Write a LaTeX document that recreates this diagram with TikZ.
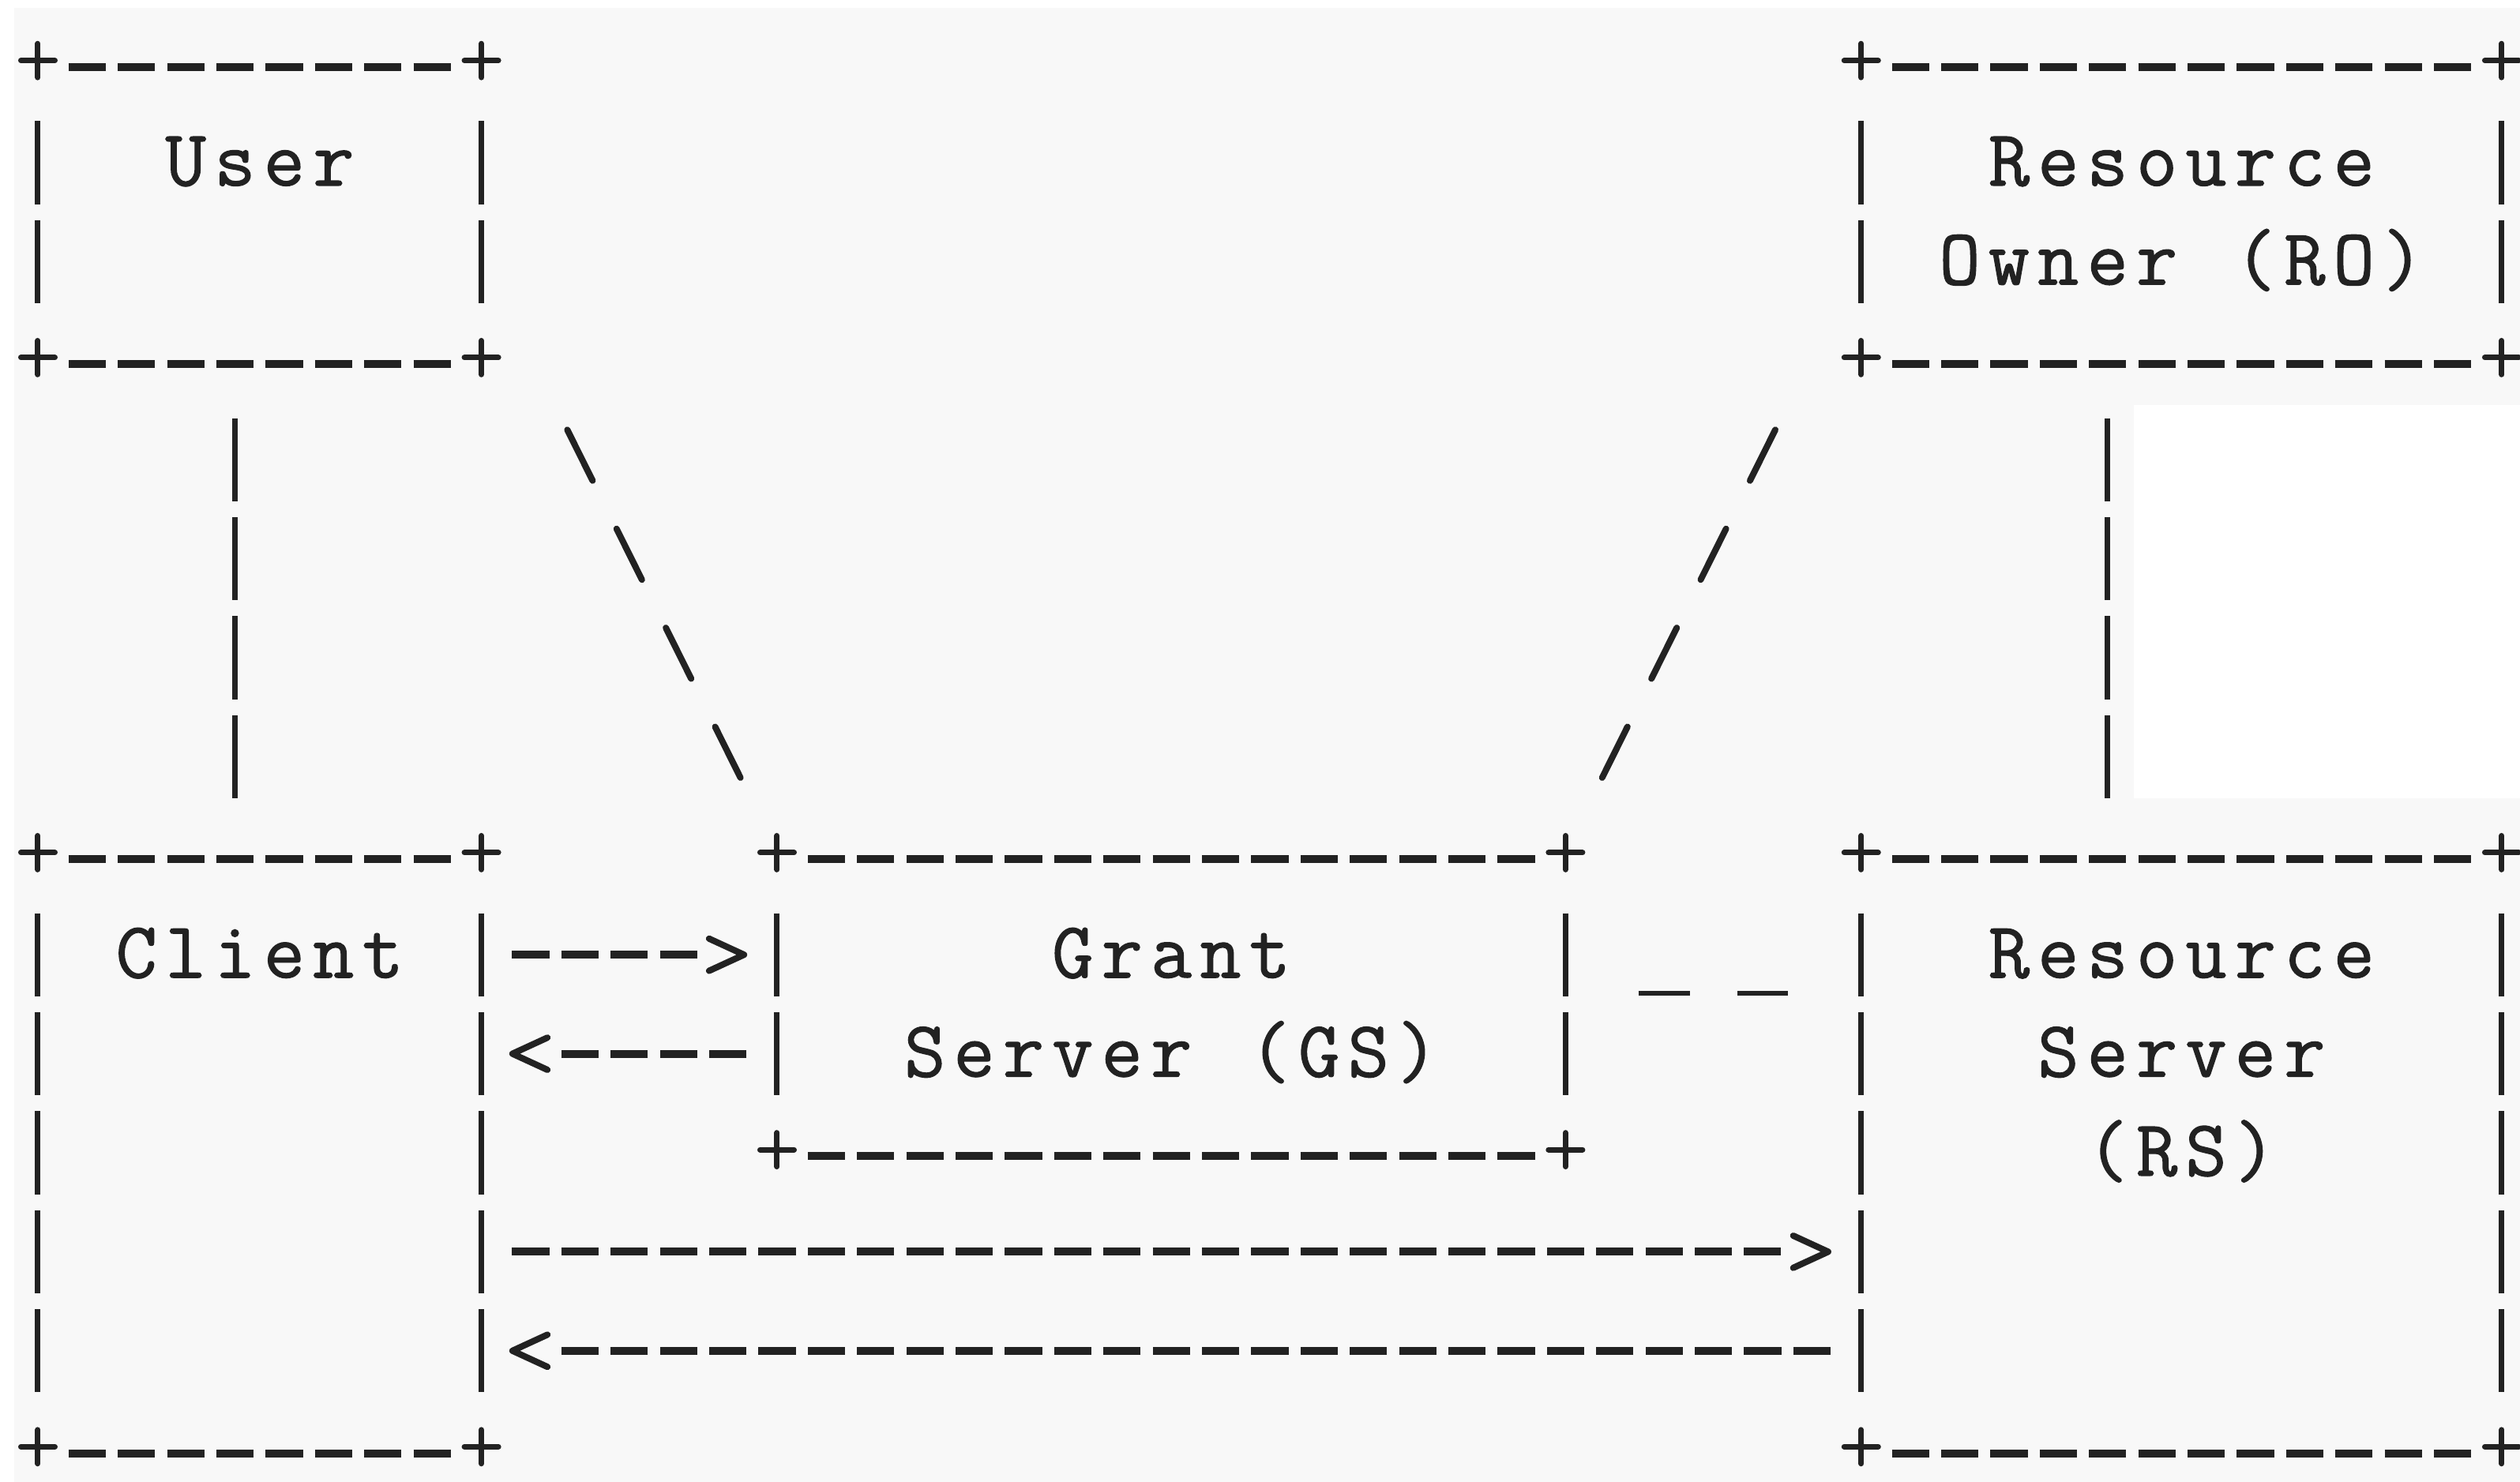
\documentclass[tikz,border=0pt]{standalone}
\usepackage{fontspec}
\usepackage{tikz}
\usetikzlibrary{calc,fit}

\newfontfamily\asciifont{lmmono12-regular.otf}[FakeBold=1.2]

\definecolor{pagebg}{RGB}{248,248,248}
\definecolor{ink}{RGB}{34,34,34}

% open ">" head, drawn solid, the line stops short of it
\pgfdeclarearrow{
  name = chevron,
  setup code = {
    \pgfarrowssettipend{0pt}
    \pgfarrowssetlineend{-7.5pt}
    \pgfarrowssetbackend{-6.3pt}
  },
  drawing code = {
    \pgfsetdash{}{0pt}
    \pgfsetlinewidth{1.14pt}
    \pgfsetroundcap
    \pgfsetroundjoin
    \pgfpathmoveto{\pgfqpoint{-6.3pt}{2.9pt}}
    \pgfpathlineto{\pgfqpoint{0pt}{0pt}}
    \pgfpathlineto{\pgfqpoint{-6.3pt}{-2.9pt}}
    \pgfusepathqstroke
  }
}

% one character per column
\newcommand{\spaced}[1]{\spacedloop#1\relax}
\def\spacedloop#1{\ifx\relax#1\else\makebox[0.312cm]{#1}\expandafter\spacedloop\fi}

% box with +----+ corners and | | sides
\newcommand{\asciibox}[5]{%
  \node[boxarea, fit={(#2,#3) (#4,#5)}] (#1) {};
  \foreach \bx in {#2,#4}
    \foreach \by in {#3,#5}
      \draw[plusmark] (\bx-0.345,\by-0.031) -- (\bx+0.345,\by-0.031)
                      (\bx,\by-0.202) -- (\bx,\by+0.140);
  \draw[hdash] (#2+0.623,#3+0.035) -- (#4-0.623,#3+0.035);
  \draw[hdash] (#2+0.623,#5+0.035) -- (#4-0.623,#5+0.035);
  \draw[vbar] (#2,#3+0.581) -- (#2,#5-0.581);
  \draw[vbar] (#4,#3+0.581) -- (#4,#5-0.581);
}

\begin{document}
\begin{tikzpicture}[x=0.312cm, y=-0.627cm]

  \tikzstyle{boxarea}=[inner sep=0pt, outer sep=0pt]
  \tikzstyle{boxtext}=[font=\fontsize{14.4}{17}\selectfont\asciifont, text=ink, inner sep=0pt, anchor=base]
  \tikzstyle{plusmark}=[draw=ink, line width=0.035cm, line cap=round]
  \tikzstyle{hdash}=[draw=ink, line width=0.05cm, dash pattern=on 0.2352cm off 0.0768cm]
  \tikzstyle{vbar}=[draw=ink, line width=0.035cm, dash pattern=on 0.5254cm off 0.1016cm]
  \tikzstyle{slant}=[draw=ink, line width=0.04cm, line cap=round, dash pattern=on 0.36cm off 0.3403cm]
  \tikzstyle{lowdash}=[draw=ink, line width=0.03cm, dash pattern=on 0.325cm off 0.299cm]
  \tikzstyle{flow}=[hdash, -{chevron}]

  % page
  \useasboundingbox (-0.7692,-0.6427) rectangle (50.369,14.3254);
  \fill[pagebg] (-0.481,-0.563) rectangle (50.369,14.3254);
  \fill[white] (42.53,3.448) rectangle (50.369,7.419);

  % boxes
  \asciibox{user}{0}{0}{9}{3}
  \asciibox{ro}{37}{0}{50}{3}
  \asciibox{client}{0}{8}{9}{14}
  \asciibox{gs}{15}{8}{31}{11}
  \asciibox{rs}{37}{8}{50}{14}

  % names
  \node[boxtext] (user-t)   at ($(user.north)+(0,1.231)$)   {\spaced{User}};
  \node[boxtext] (ro-t1)    at ($(ro.north)+(0,1.231)$)     {\spaced{Resource}};
  \node[boxtext] (ro-t2)    at ($(ro.north)+(0,2.231)$)     {\spaced{Owner~(RO)}};
  \node[boxtext] (client-t) at ($(client.north)+(0,1.231)$) {\spaced{Client}};
  \node[boxtext] (gs-t1)    at ($(gs.north)+(0,1.231)$)     {\spaced{Grant}};
  \node[boxtext] (gs-t2)    at ($(gs.north)+(0,2.231)$)     {\spaced{Server~(GS)}};
  \node[boxtext] (rs-t1)    at ($(rs.north)+(0,1.231)$)     {\spaced{Resource}};
  \node[boxtext] (rs-t2)    at ($(rs.north)+(0,2.231)$)     {\spaced{Server}};
  \node[boxtext] (rs-t3)    at ($(rs.north)+(0,3.231)$)     {\spaced{(RS)}};

  % links
  \draw[vbar]    ($(user.south)+(-0.5,0.581)$)       -- ($(client.north)+(-0.5,-0.581)$);
  \draw[vbar]    ($(ro.south)+(-1.5,0.581)$)         -- ($(rs.north)+(-1.5,-0.581)$);
  \draw[slant]   ($(user.south east)+(1.743,0.698)$) -- ($(gs.north west)+(-0.743,-0.788)$);
  \draw[slant]   ($(ro.south west)+(-1.743,0.698)$)  -- ($(gs.north east)+(0.743,-0.788)$);
  \draw[lowdash] ($(gs.north east)+(1.48,1.391)$)    -- ($(rs.north west)+(-1.48,1.391)$);

  % messages
  \draw[flow] ($(client.north east)+(0.623,1)$) -- ($(gs.north west)+(-0.67,1)$);
  \draw[flow] ($(gs.north west)+(-0.623,2)$)    -- ($(client.north east)+(0.63,2)$);
  \draw[flow] ($(client.north east)+(0.623,4)$) -- ($(rs.north west)+(-0.67,4)$);
  \draw[flow] ($(rs.north west)+(-0.623,5)$)    -- ($(client.north east)+(0.63,5)$);

\end{tikzpicture}
\end{document}
